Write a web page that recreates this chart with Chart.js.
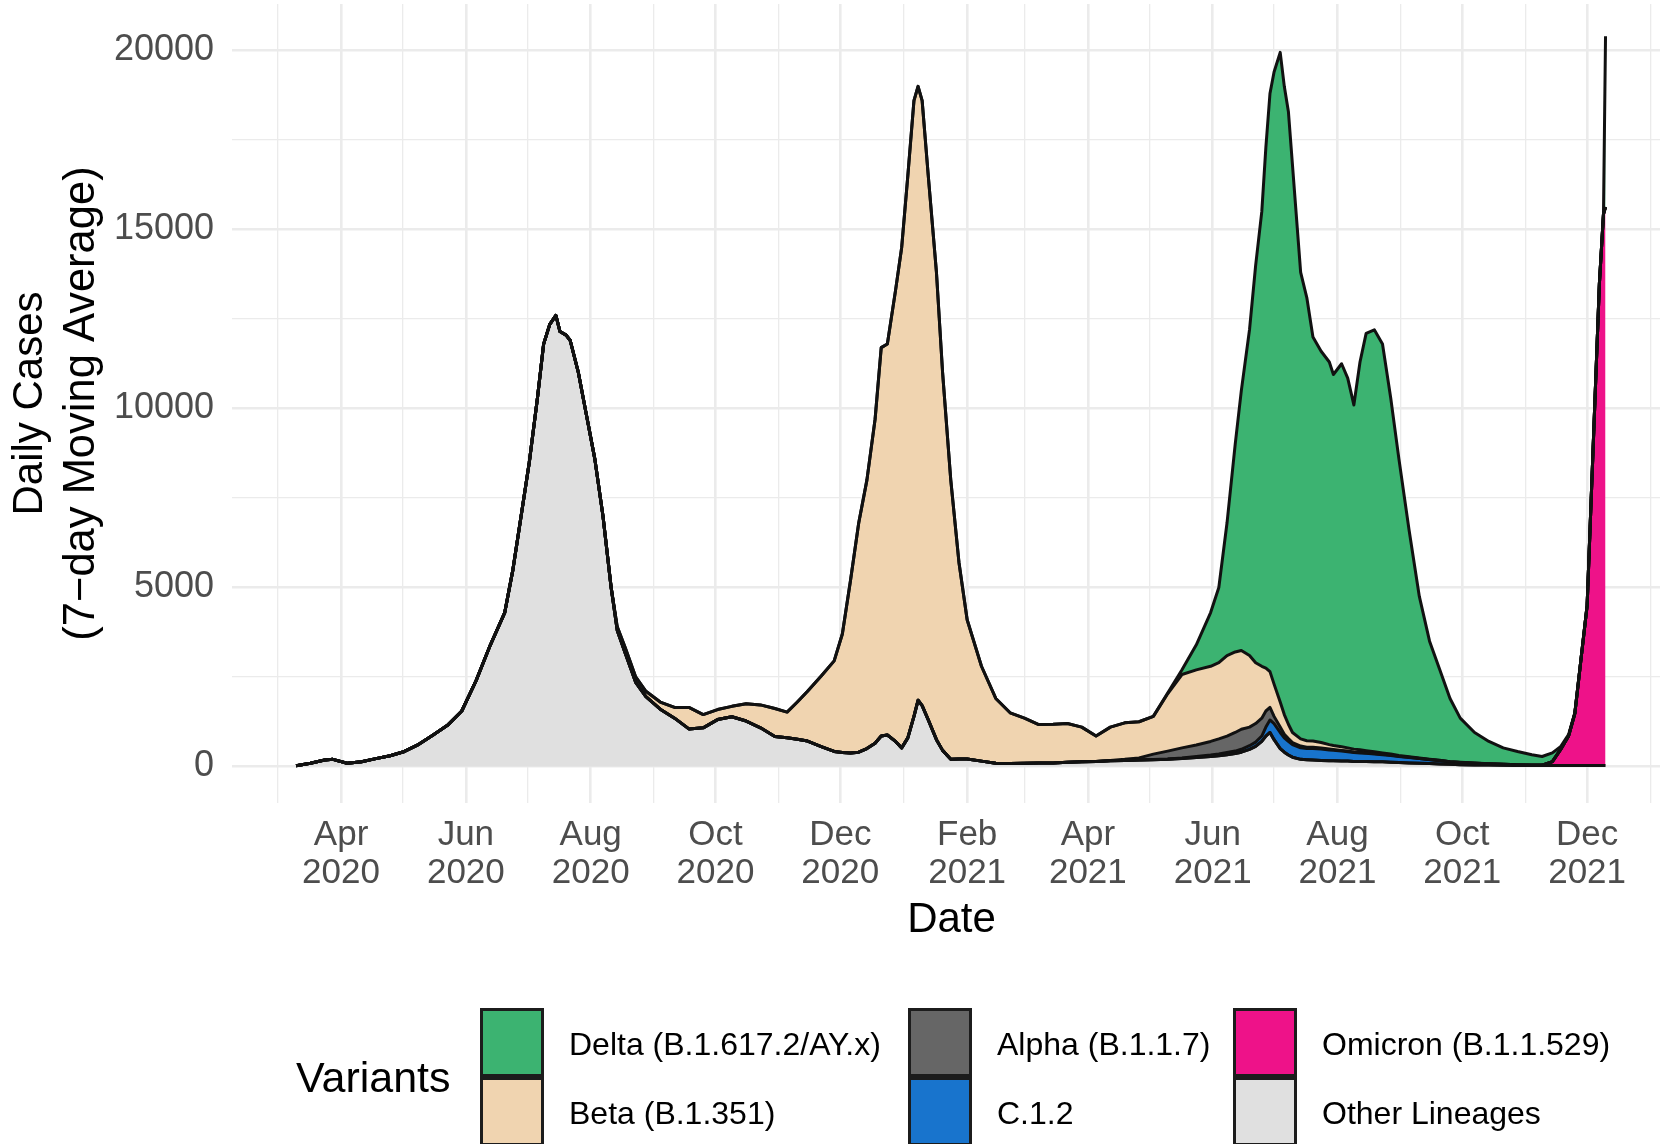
<!DOCTYPE html>
<html>
<head>
<meta charset="utf-8">
<script src="https://cdn.jsdelivr.net/npm/chart.js@4.4.1/dist/chart.umd.min.js"></script>
<style>
  html, body { margin: 0; padding: 0; background: #fff; width: 1660px; height: 1144px; overflow: hidden; }
  #chart { position: absolute; left: 0; top: 0; }
  #legend { position: absolute; left: 0; top: 0; width: 1660px; height: 1144px; pointer-events: none;
            font-family: "Liberation Sans", Arial, sans-serif; color: #000; }
  .lg-title { position: absolute; font-size: 43px; line-height: 1; transform: translateY(-50%); }
  .lg-key { position: absolute; width: 64px; height: 69px; box-sizing: border-box; border: 3px solid #1c1c1c; }
  .lg-text { position: absolute; font-size: 32px; line-height: 1; transform: translateY(-50%); white-space: nowrap; }
</style>
</head>
<body>
<canvas id="chart" width="1700" height="960"></canvas>
<div id="legend"></div>
<script>
// dates of the readings (7-day moving averages)
const DATES = [
  '2020-03-10','2020-03-17','2020-03-24','2020-03-28','2020-04-04','2020-04-11','2020-04-18','2020-04-25',
  '2020-05-02','2020-05-09','2020-05-16','2020-05-23','2020-05-30','2020-06-06','2020-06-13','2020-06-20',
  '2020-06-24','2020-06-28','2020-07-02','2020-07-06','2020-07-09','2020-07-12','2020-07-15','2020-07-17',
  '2020-07-20','2020-07-22','2020-07-26','2020-07-30','2020-08-03','2020-08-07','2020-08-11','2020-08-14',
  '2020-08-18','2020-08-23','2020-08-28','2020-09-04','2020-09-11','2020-09-18','2020-09-25','2020-10-02',
  '2020-10-09','2020-10-16','2020-10-23','2020-10-30','2020-11-05','2020-11-10','2020-11-15','2020-11-22',
  '2020-11-28','2020-12-02','2020-12-06','2020-12-10','2020-12-14','2020-12-18','2020-12-21','2020-12-24',
  '2020-12-28','2020-12-31','2021-01-03','2021-01-06','2021-01-08','2021-01-10','2021-01-13','2021-01-17',
  '2021-01-20','2021-01-24','2021-01-28','2021-02-01','2021-02-08','2021-02-15','2021-02-22','2021-03-01',
  '2021-03-08','2021-03-15','2021-03-22','2021-03-29','2021-04-05','2021-04-12','2021-04-19','2021-04-26',
  '2021-05-03','2021-05-10','2021-05-17','2021-05-24','2021-05-31','2021-06-04','2021-06-08','2021-06-12',
  '2021-06-15','2021-06-19','2021-06-22','2021-06-25','2021-06-27','2021-06-29','2021-07-01','2021-07-04',
  '2021-07-06','2021-07-08','2021-07-10','2021-07-14','2021-07-17','2021-07-20','2021-07-24','2021-07-28',
  '2021-07-30','2021-08-03','2021-08-06','2021-08-09','2021-08-12','2021-08-15','2021-08-19','2021-08-23',
  '2021-08-27','2021-08-31','2021-09-05','2021-09-10','2021-09-15','2021-09-20','2021-09-25','2021-09-30',
  '2021-10-07','2021-10-14','2021-10-21','2021-10-28','2021-11-04','2021-11-09','2021-11-14','2021-11-18',
  '2021-11-22','2021-11-25','2021-11-28','2021-12-01','2021-12-03','2021-12-05','2021-12-07','2021-12-09',
  '2021-12-10'
];

// daily cases per lineage, stacked bottom to top: other, omicron, c.1.2, alpha, beta, delta
const OTHER = [
  20, 90, 180, 200, 90, 130, 220, 300,
  420, 620, 880, 1150, 1550, 2400, 3400, 4300,
  5500, 7000, 8500, 10300, 11800, 12350, 12600, 12150,
  12050, 11900, 11000, 9800, 8600, 7000, 5000, 3800,
  3150, 2350, 1950, 1600, 1350, 1050, 1080, 1310,
  1390, 1270, 1080, 840, 800, 760, 710, 550,
  420, 390, 380, 400, 500, 650, 850, 880,
  700, 520, 800, 1400, 1850, 1700, 1300, 750,
  450, 200, 210, 210, 150, 90, 80, 90,
  100, 100, 120, 130, 140, 160, 170, 180,
  190, 200, 220, 250, 280, 300, 330, 360,
  400, 480, 560, 700, 850, 950, 750, 500,
  400, 320, 260, 200, 190, 180, 170, 160,
  160, 150, 150, 140, 140, 140, 130, 130,
  120, 110, 100, 90, 80, 70, 60, 50,
  45, 40, 35, 30, 30, 30, 30, 30,
  30, 30, 30, 30, 30, 30, 30, 30,
  30
];
const OMICRON = [
  0, 0, 0, 0, 0, 0, 0, 0,  0, 0, 0, 0, 0, 0, 0, 0,  0, 0, 0, 0, 0, 0, 0, 0,  0, 0, 0, 0, 0, 0, 0, 0,
  0, 0, 0, 0, 0, 0, 0, 0,  0, 0, 0, 0, 0, 0, 0, 0,  0, 0, 0, 0, 0, 0, 0, 0,  0, 0, 0, 0, 0, 0, 0, 0,
  0, 0, 0, 0, 0, 0, 0, 0,  0, 0, 0, 0, 0, 0, 0, 0,  0, 0, 0, 0, 0, 0, 0, 0,  0, 0, 0, 0, 0, 0, 0, 0,
  0, 0, 0, 0, 0, 0, 0, 0,  0, 0, 0, 0, 0, 0, 0, 0,  0, 0, 0, 0, 0, 0, 0, 0,
  0, 0, 0, 0, 0, 0, 100, 440,
  830, 1450, 2960, 4465, 7460, 10460, 13460, 15400,
  15600
];
const C12 = [
  0, 0, 0, 0, 0, 0, 0, 0,  0, 0, 0, 0, 0, 0, 0, 0,  0, 0, 0, 0, 0, 0, 0, 0,  0, 0, 0, 0, 0, 0, 0, 0,
  0, 0, 0, 0, 0, 0, 0, 0,  0, 0, 0, 0, 0, 0, 0, 0,  0, 0, 0, 0, 0, 0, 0, 0,  0, 0, 0, 0, 0, 0, 0, 0,
  0, 0, 0, 0, 0, 0, 0, 0,  0, 0, 0, 0, 0, 0, 0, 0,
  5, 10, 20, 30, 40, 50, 60, 70,
  80, 100, 120, 150, 250, 350, 450, 450,
  400, 380, 350, 320, 310, 320, 320, 300,
  290, 280, 260, 250, 240, 230, 220, 200,
  190, 170, 150, 130, 110, 90, 70, 60,
  45, 35, 25, 20, 15, 10, 5, 0,
  0, 0, 0, 0, 0, 0, 0, 0,
  0
];
const ALPHA = [
  0, 0, 0, 0, 0, 0, 0, 0,  0, 0, 0, 0, 0, 0, 0, 0,  0, 0, 0, 0, 0, 0, 0, 0,  0, 0, 0, 0, 0, 0, 0, 0,
  0, 0, 0, 0, 0, 0, 0, 0,  0, 0, 0, 0, 0, 0, 0, 0,  0, 0, 0, 0, 0, 0, 0, 0,  0, 0, 0, 0, 0, 0, 0, 0,
  0, 0, 0, 0, 0, 0, 0, 0,  0, 0, 0, 0, 0, 10, 30, 60,
  150, 220, 280, 320, 380, 420, 460, 520,
  560, 520, 520, 500, 450, 350, 200, 150,
  100, 80, 60, 50, 40, 40, 30, 30,
  25, 20, 20, 15, 15, 10, 10, 10,
  10, 5, 5, 5, 5, 5, 0, 0,
  0, 0, 0, 0, 0, 0, 0, 0,
  0, 0, 0, 0, 0, 0, 0, 0,
  0
];
const BETA = [
  0, 0, 0, 0, 0, 0, 0, 0,  0, 0, 0, 0, 0, 0, 0, 0,  0, 0, 0, 0, 0, 0, 0, 0,
  0, 0, 0, 0, 0, 0, 0, 100,
  150, 150, 150, 200, 300, 600, 370, 280,
  290, 480, 640, 780, 720, 1040, 1390, 2000,
  2530, 3310, 4820, 6400, 7500, 9050, 10850, 10920,
  12600, 13980, 15700, 17200, 17150, 16900, 15200, 13050,
  10550, 7800, 5490, 3890, 2650, 1810, 1420, 1260,
  1070, 1080, 1080, 970, 710, 930, 1020, 1010,
  1055, 1600, 2050, 2100, 2100, 2130, 2250, 2250,
  2200, 2000, 1700, 1450, 1200, 1000, 900, 700,
  550, 400, 280, 200, 180, 170, 150, 120,
  110, 100, 90, 80, 70, 60, 50, 40,
  30, 25, 20, 15, 10, 10, 5, 5,
  5, 0, 0, 0, 0, 0, 0, 0,
  0, 0, 0, 0, 0, 0, 0, 0,
  0
];
const DELTA = [
  0, 0, 0, 0, 0, 0, 0, 0,  0, 0, 0, 0, 0, 0, 0, 0,  0, 0, 0, 0, 0, 0, 0, 0,  0, 0, 0, 0, 0, 0, 0, 0,
  0, 0, 0, 0, 0, 0, 0, 0,  0, 0, 0, 0, 0, 0, 0, 0,  0, 0, 0, 0, 0, 0, 0, 0,  0, 0, 0, 0, 0, 0, 0, 0,
  0, 0, 0, 0, 0, 0, 0, 0,  0, 0, 0, 0, 0, 0, 0, 0,
  0, 20, 130, 700, 1500, 2100, 3700, 5800,
  7260, 9100, 11100, 12700, 14550, 16150, 17100, 18150,
  17550, 17120, 15850, 13030, 12380, 11290, 10930, 10690,
  10365, 10700, 10330, 9615, 10835, 11660, 11790, 11420,
  9950, 8290, 6325, 4510, 3295, 2525, 1765, 1235,
  855, 625, 460, 370, 285, 240, 245, 80,
  40, 20, 10, 5, 10, 10, 10, 10,
  4770
];

const SERIES_NAMES  = ['Other Lineages', 'Omicron (B.1.1.529)', 'C.1.2', 'Alpha (B.1.1.7)', 'Beta (B.1.351)', 'Delta (B.1.617.2/AY.x)'];
const SERIES_VALUES = [OTHER, OMICRON, C12, ALPHA, BETA, DELTA];
const SERIES_COLORS = ['#e0e0e0', '#ee1289', '#1874cd', '#666666', '#f0d4b0', '#3cb371'];

const LEGEND_ORDER = ['Delta (B.1.617.2/AY.x)', 'Beta (B.1.351)', 'Alpha (B.1.1.7)', 'C.1.2', 'Omicron (B.1.1.529)', 'Other Lineages'];

const Y_MAJOR = [0, 5000, 10000, 15000, 20000];
const Y_MINOR = [2500, 7500, 12500, 17500];

const X_TICK_DATES = [
  '2020-03-01','2020-04-01','2020-05-01','2020-06-01','2020-07-01','2020-08-01','2020-09-01','2020-10-01',
  '2020-11-01','2020-12-01','2021-01-01','2021-02-01','2021-03-01','2021-04-01','2021-05-01','2021-06-01',
  '2021-07-01','2021-08-01','2021-09-01','2021-10-01','2021-11-01','2021-12-01','2022-01-01'
];
const X_TICK_LABELS = [
  '', 'Apr\n2020', '', 'Jun\n2020', '', 'Aug\n2020', '', 'Oct\n2020',
  '', 'Dec\n2020', '', 'Feb\n2021', '', 'Apr\n2021', '', 'Jun\n2021',
  '', 'Aug\n2021', '', 'Oct\n2021', '', 'Dec\n2021', ''
];

const X_TITLE = 'Date';
const Y_TITLE = ['Daily Cases', '(7\u2212day Moving Average)'];
const LEGEND_TITLE = 'Variants';

const FONT = '"Liberation Sans", Arial, sans-serif';
const GRID = '#ebebeb';

function dayNum(s) {
  const [y, m, d] = s.split('-').map(Number);
  return (Date.UTC(y, m - 1, d) - Date.UTC(2020, 0, 1)) / 86400000;
}

const xs = DATES.map(dayNum);
const xTicks = X_TICK_DATES.map(dayNum);
const yTicks = [...Y_MAJOR, ...Y_MINOR].sort((a, b) => a - b);

const datasets = SERIES_NAMES.map((name, i) => ({
  label:           name,
  data:            SERIES_VALUES[i].map((v, j) => ({ x: xs[j], y: v })),
  backgroundColor: SERIES_COLORS[i],
  borderColor:     '#111111',
  borderWidth:     3,
  borderJoinStyle: 'round',
  pointRadius:     0,
  tension:         0,
  fill:            i === 0 ? 'origin' : '-1'
}));

const axisTitles = {
  id: 'axisTitles',
  afterDraw(chart) {
    const { ctx, chartArea } = chart;
    ctx.save();
    ctx.fillStyle = '#000';
    ctx.textAlign = 'center';
    ctx.textBaseline = 'alphabetic';
    ctx.font = '42px ' + FONT;
    ctx.fillText(X_TITLE, (chartArea.left + chartArea.right) / 2, 932);
    ctx.translate(0, (chartArea.top + chartArea.bottom) / 2);
    ctx.rotate(-Math.PI / 2);
    ctx.fillText(Y_TITLE[0], 0, 42);
    ctx.font = '43.5px ' + FONT;
    ctx.fillText(Y_TITLE[1], 0, 94);
    ctx.restore();
  }
};

new Chart(document.getElementById('chart').getContext('2d'), {
  type: 'line',
  data: { datasets },
  options: {
    responsive:       false,
    devicePixelRatio: 1,
    animation:        false,
    layout: { padding: { top: 4, right: 29, left: 0, bottom: 0 } },
    plugins: {
      legend:  { display: false },
      tooltip: { enabled: false },
      filler:  { drawTime: 'beforeDatasetsDraw' }
    },
    scales: {
      x: {
        type: 'linear',
        min:  37.7,
        max:  741,
        border: { display: false },
        grid: {
          color:     GRID,
          drawTicks: false,
          lineWidth: c => (X_TICK_LABELS[c.index] ? 2.6 : 1.3)
        },
        ticks: {
          autoSkip:    false,
          maxRotation: 0,
          padding:     13,
          color:       '#4d4d4d',
          font:        { family: FONT, size: 35, lineHeight: 1.1 },
          callback:    (v, i) => (X_TICK_LABELS[i] ? X_TICK_LABELS[i].split('\n') : '')
        },
        afterBuildTicks: s => { s.ticks = xTicks.map(v => ({ value: v })); },
        afterFit: s => { s.height = 157; s.paddingLeft = 0; s.paddingRight = 0; }
      },
      y: {
        stacked: true,
        min:     -1020,
        max:     21300,
        border:  { display: false },
        grid: {
          color:     GRID,
          drawTicks: false,
          lineWidth: c => (Y_MAJOR.includes(c.tick.value) ? 2.6 : 1.3)
        },
        ticks: {
          padding:  18,
          color:    '#4d4d4d',
          font:     { family: FONT, size: 36 },
          callback: v => (Y_MAJOR.includes(v) ? String(v) : '')
        },
        afterBuildTicks: s => { s.ticks = yTicks.map(v => ({ value: v })); },
        afterFit: s => { s.width = 232; s.paddingTop = 0; s.paddingBottom = 0; }
      }
    }
  },
  plugins: [axisTitles]
});

// legend: ggplot-style, 3 columns x 2 rows, filled column-wise
const legend = document.getElementById('legend');
const colX = [480, 908, 1233];
const rowTop = [1008, 1077];
const keyH = 69;

const title = document.createElement('div');
title.className = 'lg-title';
title.textContent = LEGEND_TITLE;
title.style.left = '296px';
title.style.top = '1077px';
legend.appendChild(title);

LEGEND_ORDER.forEach((name, k) => {
  const col = Math.floor(k / 2), row = k % 2;
  const idx = SERIES_NAMES.indexOf(name);
  const key = document.createElement('div');
  key.className = 'lg-key';
  key.style.left = colX[col] + 'px';
  key.style.top = rowTop[row] + 'px';
  key.style.background = SERIES_COLORS[idx];
  legend.appendChild(key);

  const txt = document.createElement('div');
  txt.className = 'lg-text';
  txt.textContent = name;
  txt.style.left = (colX[col] + 89) + 'px';
  txt.style.top = (rowTop[row] + keyH / 2 + 1) + 'px';
  legend.appendChild(txt);
});
</script>
</body>
</html>
